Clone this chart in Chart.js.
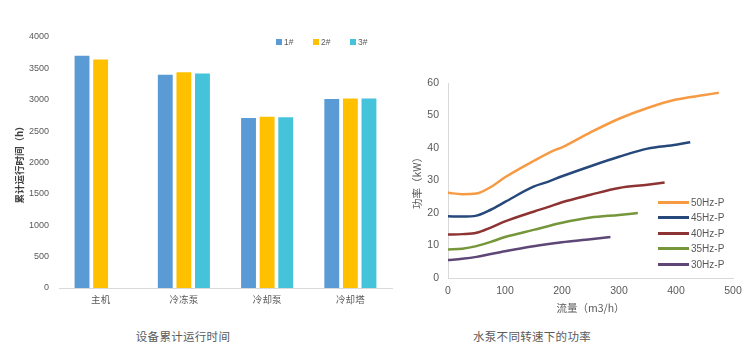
<!DOCTYPE html>
<html lang="zh">
<head>
<meta charset="UTF-8">
<title>设备累计运行时间 / 水泵不同转速下的功率</title>
<script src="https://cdn.jsdelivr.net/npm/chart.js"></script>
<style>
  body { margin: 0; background: #fff; width: 753px; height: 353px; position: relative; overflow: hidden;
         font-family: "Liberation Sans", "Noto Sans CJK SC", sans-serif; }
  #barWrap { position: absolute; left: 0; top: 0; width: 395px; height: 320px; }
  #lineWrap { position: absolute; left: 400px; top: 60px; width: 353px; height: 265px; }
  .cap { position: absolute; top: 328px; font-family: "Noto Sans CJK SC", sans-serif; font-size: 11.5px;
         color: #5a5a5a; letter-spacing: 0.3px; transform: translateX(-50%); white-space: nowrap; }
  .barLegend { position: absolute; top: 37px; font-size: 8.5px; color: #595959; display: flex; align-items: center; }
  .barLegend i { display: inline-block; width: 6px; height: 6px; margin-right: 2px; }
  .lineLegend { position: absolute; left: 658px; font-size: 10px; color: #595959; display: flex; align-items: center; height: 12px; }
  .lineLegend i { display: inline-block; width: 31px; height: 3px; margin-right: 2px; }
</style>
</head>
<body>
<div id="barWrap"><canvas id="barChart" width="395" height="320"></canvas></div>
<div id="lineWrap"><canvas id="lineChart" width="353" height="265"></canvas></div>
<div class="cap" style="left:183px">设备累计运行时间</div>
<div class="cap" style="left:532px">水泵不同转速下的功率</div>
<div id="legends"></div>

<script>
// left chart: accumulated running hours
const categories = ['主机', '冷冻泵', '冷却泵', '冷却塔'];
const unitNames = ['1#', '2#', '3#'];
const hours1 = [3700, 3400, 2710, 3010];
const hours2 = [3640, 3440, 2730, 3020];
const hours3 = [null, 3420, 2720, 3020];
const barColors = ['#5B9BD5', '#FFC000', '#45C3DA'];

// right chart: pump power at different speeds
const seriesNames = ['50Hz-P', '45Hz-P', '40Hz-P', '35Hz-P', '30Hz-P'];
const flow50 = [0, 25, 50, 75, 100, 150, 185, 200, 250, 300, 350, 400, 450, 475];
const power50 = [26.2, 25.8, 26.0, 28.0, 31.0, 36.0, 39.2, 40.2, 44.8, 49.0, 52.3, 54.9, 56.3, 57.0];
const flow45 = [0, 25, 50, 75, 100, 150, 175, 200, 250, 300, 350, 400, 425];
const power45 = [19.0, 18.9, 19.2, 21.0, 23.4, 28.1, 29.6, 31.3, 34.4, 37.3, 39.8, 41.0, 41.8];
const flow40 = [0, 25, 50, 75, 100, 150, 175, 200, 250, 300, 350, 380];
const power40 = [13.4, 13.5, 13.9, 15.5, 17.4, 20.4, 21.8, 23.3, 25.6, 27.7, 28.7, 29.4];
const flow35 = [0, 25, 50, 75, 100, 150, 200, 250, 300, 333];
const power35 = [8.8, 9.0, 9.8, 11.1, 12.6, 14.8, 17.0, 18.6, 19.4, 20.0];
const flow30 = [0, 25, 50, 75, 100, 150, 200, 250, 285];
const power30 = [5.5, 5.9, 6.5, 7.4, 8.2, 9.8, 11.0, 11.9, 12.6];
const lineColors = ['#F79A44', '#26487A', '#8E3333', '#76963A', '#5E4677'];

const tickColor = '#595959';
const axisColor = '#D9D9D9';

// HTML legends
const legends = document.getElementById('legends');
const barLegendX = [276, 313, 350];
unitNames.forEach((n, i) => {
  const d = document.createElement('div');
  d.className = 'barLegend';
  d.style.left = barLegendX[i] + 'px';
  d.innerHTML = '<i style="background:' + barColors[i] + '"></i>' + n;
  legends.appendChild(d);
});
const lineLegendY = [196, 211, 227, 242, 258];
seriesNames.forEach((n, i) => {
  const d = document.createElement('div');
  d.className = 'lineLegend';
  d.style.top = lineLegendY[i] + 'px';
  d.innerHTML = '<i style="background:' + lineColors[i] + '"></i>' + n;
  legends.appendChild(d);
});

new Chart(document.getElementById('barChart'), {
  type: 'bar',
  data: {
    labels: categories,
    datasets: [hours1, hours2, hours3].map((v, i) => ({
      label: unitNames[i],
      data: v,
      backgroundColor: barColors[i],
      categoryPercentage: 0.67,
      barPercentage: 0.8
    }))
  },
  options: {
    responsive: false,
    animation: false,
    layout: { padding: { left: 0, top: 37, right: 3, bottom: 8 } },
    plugins: { legend: { display: false }, tooltip: { enabled: false } },
    scales: {
      x: {
        grid: { display: false, drawTicks: false },
        border: { display: true, color: axisColor, width: 1 },
        ticks: { color: tickColor, padding: 6, font: { size: 9.5, family: '"Noto Sans CJK SC", sans-serif' } },
        afterFit: s => { s.height = 24; }
      },
      y: {
        min: 0, max: 4000,
        grid: { display: false, drawTicks: false },
        border: { display: false },
        ticks: { stepSize: 500, color: tickColor, padding: 10, callback: v => String(v),
                 font: { size: 9, family: '"Liberation Sans", sans-serif' } },
        title: {
          display: true, text: '累计运行时间（h）', color: '#404040',
          padding: { top: 14, bottom: 0 },
          font: { size: 9.5, weight: 'bold', family: '"Noto Sans CJK SC", sans-serif' }
        },
        afterFit: s => { s.width = 59; }
      }
    }
  }
});

const lineSets = [
  [flow50, power50], [flow45, power45], [flow40, power40], [flow35, power35], [flow30, power30]
];

new Chart(document.getElementById('lineChart'), {
  type: 'line',
  data: {
    datasets: lineSets.map((s, i) => ({
      label: seriesNames[i],
      data: s[0].map((x, k) => ({ x: x, y: s[1][k] })),
      borderColor: lineColors[i],
      borderWidth: 2.5,
      pointRadius: 0,
      cubicInterpolationMode: 'monotone',
      fill: false
    }))
  },
  options: {
    responsive: false,
    animation: false,
    layout: { padding: { left: 0, top: 23, right: 20, bottom: 7 } },
    plugins: { legend: { display: false }, tooltip: { enabled: false } },
    scales: {
      x: {
        type: 'linear', min: 0, max: 500,
        grid: { display: false, drawTicks: false },
        border: { display: true, color: axisColor, width: 1 },
        ticks: { stepSize: 100, color: tickColor, padding: 7, font: { size: 10.5, family: '"Liberation Sans", sans-serif' } },
        title: {
          display: true, text: '流量（m3/h）', color: tickColor,
          padding: { top: 0, bottom: 4 },
          font: { size: 10.5, family: '"Noto Sans CJK SC", sans-serif' }
        },
        afterFit: s => { s.height = 40; }
      },
      y: {
        min: 0, max: 60,
        grid: { display: false, drawTicks: false },
        border: { display: true, color: axisColor, width: 1 },
        ticks: { stepSize: 10, color: tickColor, padding: 9, font: { size: 10.5, family: '"Liberation Sans", sans-serif' } },
        title: {
          display: true, text: '功率（kW）', color: tickColor,
          padding: { top: 11, bottom: 0 },
          font: { size: 10.5, family: '"Noto Sans CJK SC", sans-serif' }
        },
        afterFit: s => { s.width = 48; }
      }
    }
  }
});
</script>
</body>
</html>
